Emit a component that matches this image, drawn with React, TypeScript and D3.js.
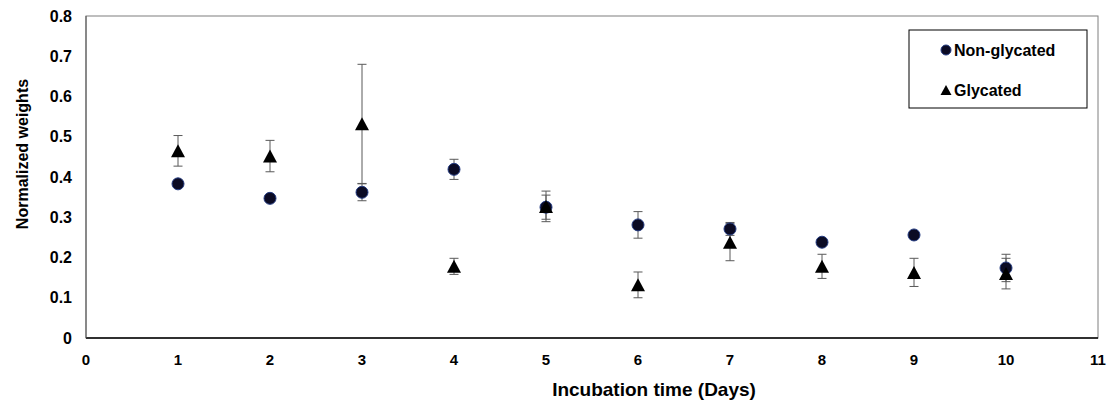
import React from 'react';
import * as d3 from 'd3';

// Incubation days and normalized weights
const days = [1, 2, 3, 4, 5, 6, 7, 8, 9, 10];
const nonGlycated = [0.383, 0.347, 0.362, 0.419, 0.325, 0.281, 0.271, 0.238, 0.256, 0.174];
const nonGlycatedErr = [0.005, 0.004, 0.021, 0.025, 0.03, 0.033, 0.016, 0.005, 0.005, 0.034];
const glycated = [0.465, 0.452, 0.532, 0.178, 0.327, 0.132, 0.238, 0.178, 0.163, 0.16];
const glycatedErr = [0.038, 0.039, 0.148, 0.02, 0.038, 0.032, 0.046, 0.03, 0.035, 0.038];

const xTicks = [0, 1, 2, 3, 4, 5, 6, 7, 8, 9, 10, 11];
const yTicks = [0, 0.1, 0.2, 0.3, 0.4, 0.5, 0.6, 0.7, 0.8];

const W = 1115;
const H = 409;
const plot = { left: 86, right: 1098, top: 16, bottom: 338 };
const FONT = 'Liberation Sans, Arial, sans-serif';

const trianglePath = 'M0,-6.5L7,6.5L-7,6.5Z';
const smallTriangle = 'M0,-5L5.5,5L-5.5,5Z';

function ErrorBar({ x, y0, y1 }: { x: number; y0: number; y1: number }) {
  const cap = 4.5;
  return (
    <g stroke="#595959" strokeWidth={1}>
      <line x1={x} x2={x} y1={y0} y2={y1} />
      <line x1={x - cap} x2={x + cap} y1={y0} y2={y0} />
      <line x1={x - cap} x2={x + cap} y1={y1} y2={y1} />
    </g>
  );
}

export default function App() {
  const x = d3.scaleLinear().domain([0, 11]).range([plot.left, plot.right]);
  const y = d3.scaleLinear().domain([0, 0.8]).range([plot.bottom, plot.top]);

  return (
    <svg
      width={W}
      height={H}
      style={{ position: 'absolute', left: 0, top: 0, background: '#fff' }}
      fontFamily={FONT}
    >
      {/* plot area border */}
      <rect
        x={plot.left}
        y={plot.top}
        width={plot.right - plot.left}
        height={plot.bottom - plot.top}
        fill="none"
        stroke="#7f7f7f"
        strokeWidth={1}
      />
      {/* axes */}
      <line x1={plot.left} x2={plot.right} y1={plot.bottom} y2={plot.bottom} stroke="#000" strokeWidth={1.5} />
      <line x1={plot.left} x2={plot.left} y1={plot.top} y2={plot.bottom} stroke="#555" strokeWidth={1} />

      {/* y tick labels */}
      {yTicks.map(t => (
        <text
          key={'y' + t}
          x={72}
          y={y(t)}
          dy="0.35em"
          textAnchor="end"
          fontSize={16}
          fontWeight="bold"
          fill="#000"
        >
          {t === 0 ? '0' : d3.format('.1f')(t)}
        </text>
      ))}

      {/* x tick labels */}
      {xTicks.map(t => (
        <text
          key={'x' + t}
          x={x(t)}
          y={365}
          textAnchor="middle"
          fontSize={15}
          fontWeight="bold"
          fill="#000"
        >
          {t}
        </text>
      ))}

      {/* axis titles */}
      <text
        transform="translate(28,154) rotate(-90)"
        textAnchor="middle"
        fontSize={16}
        fontWeight="bold"
        fill="#000"
      >
        Normalized weights
      </text>
      <text x={654} y={396} textAnchor="middle" fontSize={19} fontWeight="bold" fill="#000">
        Incubation time (Days)
      </text>

      {/* error bars */}
      {days.map((d, i) => (
        <ErrorBar
          key={'ne' + d}
          x={x(d)}
          y0={y(nonGlycated[i] + nonGlycatedErr[i])}
          y1={y(nonGlycated[i] - nonGlycatedErr[i])}
        />
      ))}
      {days.map((d, i) => (
        <ErrorBar
          key={'ge' + d}
          x={x(d)}
          y0={y(glycated[i] + glycatedErr[i])}
          y1={y(glycated[i] - glycatedErr[i])}
        />
      ))}

      {/* Non-glycated markers */}
      {days.map((d, i) => (
        <circle
          key={'n' + d}
          cx={x(d)}
          cy={y(nonGlycated[i])}
          r={6}
          fill="#0b0b24"
          stroke="#233a80"
          strokeWidth={1}
        />
      ))}
      {/* Glycated markers */}
      {days.map((d, i) => (
        <path
          key={'g' + d}
          d={trianglePath}
          transform={`translate(${x(d)},${y(glycated[i])})`}
          fill="#000"
        />
      ))}

      {/* legend */}
      <rect x={909} y={30} width={178} height={78} fill="#fff" stroke="#000" strokeWidth={1} />
      <circle cx={946} cy={50} r={5} fill="#0b0b24" stroke="#233a80" strokeWidth={1} />
      <text x={954} y={56} fontSize={16} fontWeight="bold" fill="#000">
        Non-glycated
      </text>
      <path d={smallTriangle} transform="translate(946,90)" fill="#000" />
      <text x={954} y={96} fontSize={16} fontWeight="bold" fill="#000">
        Glycated
      </text>
    </svg>
  );
}
